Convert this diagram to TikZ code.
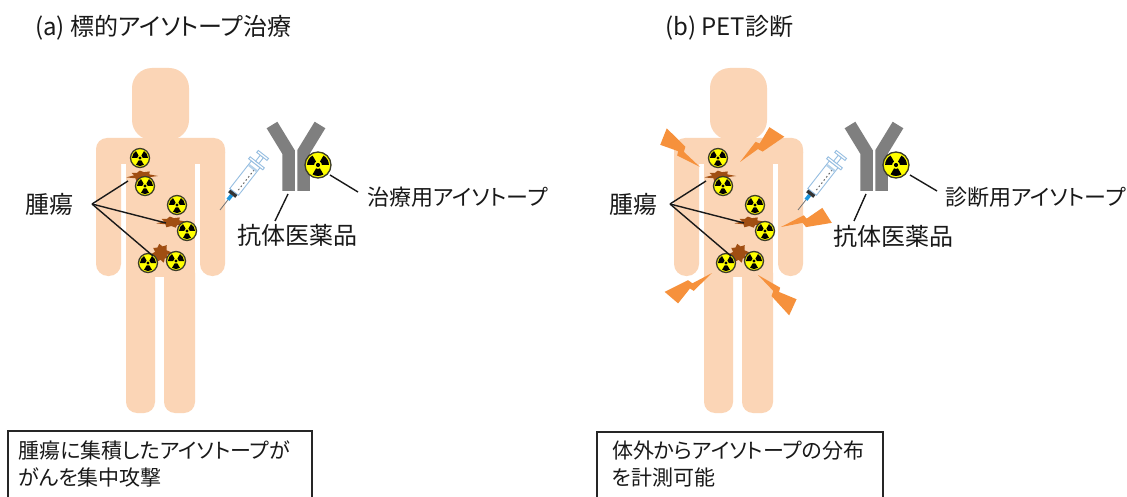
\documentclass[tikz,border=0pt]{standalone}
\usepackage{fontspec}
\setmainfont{Noto Sans CJK JP}[RawFeature=+palt]
\usetikzlibrary{calc}
\definecolor{skin}{RGB}{251,213,182}
\definecolor{abgray}{RGB}{127,127,127}
\definecolor{radyellow}{RGB}{255,255,0}
\definecolor{radring}{RGB}{60,60,40}
\definecolor{tumourbrown}{RGB}{160,78,18}
\definecolor{boltorange}{RGB}{246,145,60}
\definecolor{syrblue}{RGB}{150,190,225}
\definecolor{hubblue}{RGB}{30,150,220}
\definecolor{inktext}{RGB}{25,25,25}

\tikzset{
  % radiation trefoil, unit radius
  radsym/.pic={
    \fill[radyellow] (0,0) circle (1);
    \foreach \a in {60,180,300}
      \fill[black] (\a:0.3) arc[start angle=\a, end angle=\a+60, radius=0.3]
        -- ({\a+60}:0.84) arc[start angle=\a+60, end angle=\a, radius=0.84] -- cycle;
    \fill[black] (0,0) circle (0.16);
    \draw[radring, line width=1.3pt] (0,0) circle (1);
  },
  % ragged tumour mass
  tumour/.pic={
    \fill[tumourbrown] (0:16) -- (16:8) -- (32:13) -- (50:8) -- (72:12) -- (95:8)
      -- (118:12) -- (145:8) -- (170:16) -- (190:8) -- (210:12) -- (232:8)
      -- (258:11) -- (285:8) -- (310:12) -- (336:8) -- cycle;
  },
  % lightning bolt, tip at origin, pointing along +x
  bolt/.pic={
    \fill[boltorange] (0,0) -- (-22,-2) -- (-24,-7) -- (-50,-10) -- (-45,7)
      -- (-27,1) -- (-25,5) -- cycle;
  },
  % syringe, needle tip at origin, barrel along +x
  syringe/.pic={
    \draw[black!55, line width=0.8pt] (0,0) -- (14,0);
    \fill[hubblue] (13,-1.8) rectangle (19,1.8);
    \fill[black!80] (19,-4.5) rectangle (23,4.5);
    \draw[syrblue, fill=white, line width=0.9pt] (23,-5.5) rectangle (58,5.5);
    \foreach \t in {27,31,...,51}
      \draw[black!60, line width=1pt] (\t,2.2) -- (\t+1.6,2.2);
    \fill[syrblue!70] (52,-5) rectangle (54.5,5);
    \draw[syrblue, fill=white, line width=0.9pt] (58,-9) rectangle (60.5,9);
    \draw[syrblue, fill=white, line width=0.9pt] (60.5,-2) rectangle (68,2);
    \draw[syrblue, fill=white, line width=0.9pt] (68,-6.5) rectangle (70.5,6.5);
  },
  % human silhouette
  person/.pic={
    \fill[skin, rounded corners=20] (132,68) rectangle (189,140);
    \fill[skin, rounded corners=11] (96,138) rectangle (225,164);
    \fill[skin, rounded corners=12] (96,140) rectangle (121,276);
    \fill[skin, rounded corners=12] (200,140) rectangle (225,276);
    \fill[skin] (126,150) rectangle (195,277);
    \fill[skin, rounded corners=11] (126,262) rectangle (155,413);
    \fill[skin, rounded corners=11] (164,262) rectangle (195,413);
  },
  % antibody with its isotope
  antibody/.pic={
    \draw[abgray, line width=12.5pt, line join=miter] (288.5,191) -- (288.5,152) -- (272,125);
    \draw[abgray, line width=12.5pt, line join=miter] (303.5,191) -- (303.5,152) -- (320,125);
    \pic[scale=13] at (318,165) {radsym};
  },
  ttl/.style={font=\fontsize{24}{28}\selectfont, text=inktext, inner sep=0pt, anchor=base west},
  lbl/.style={font=\fontsize{22}{26}\selectfont, text=inktext, inner sep=0pt, anchor=base west},
  lblk/.style={font=\fontsize{24}{28}\selectfont, text=inktext, inner sep=0pt, anchor=base west},
  note/.style={font=\fontsize{21}{27}\selectfont, text=inktext, inner sep=0pt, anchor=base west},
  leader/.style={line width=1.4pt, black!90},
  notebox/.style={draw=black!85, line width=1.3pt},
}

\begin{document}
\begin{tikzpicture}[x=1pt, y=-1pt]
\clip (0,0) rectangle (1127,497);
\fill[white] (0,0) rectangle (1127,497);

% ---------- (a) targeted isotope therapy ----------
\node[ttl] (titleA) at (35,36) {(a) 標的アイソトープ治療};
\pic at (0,0) {person};
\pic at (142,176) [yscale=0.5] {tumour};
\pic at (172,222) [yscale=0.5] {tumour};
\pic at (161,253) [xscale=0.75, yscale=0.85] {tumour};
\foreach \p in {(140,158),(145,186),(177,205),(187,231),(148,263),(176,261)}
  \pic[scale=9.5] at \p {radsym};
\node[lblk] (tumA) at (25,214) {腫瘍};
\coordinate (hubA) at (92,204);
\coordinate (tA1) at (128,181);
\coordinate (tA2) at (166,223);
\coordinate (tA3) at (153,256);
\draw[leader] (hubA) -- (tA1);
\draw[leader] (hubA) -- (tA2);
\draw[leader] (hubA) -- (tA3);
\pic[rotate=52] at (220,210) {syringe};
\pic at (0,0) {antibody};
\node[lblk] (abA) at (237,244) {抗体医薬品};
\coordinate (abA0) at (288,194);
\coordinate (abA1) at (275,221);
\draw[leader] (abA0) -- (abA1);
\node[lbl] (isoA) at (367,206) {治療用アイソトープ};
\coordinate (isoA0) at (330,175);
\coordinate (isoA1) at (358,192);
\draw[leader] (isoA0) -- (isoA1);
\draw[notebox] (8,431) rectangle (312,510);
\node[note] (noteA1) at (18,458) {腫瘍に集積したアイソトープが};
\node[note] (noteA2) at (18,485) {がんを集中攻撃};

% ---------- (b) PET diagnosis ----------
\node[ttl] (titleB) at (665,36) {(b) PET診断};
\pic at (578,0) {person};
\begin{scope}[shift={(578,0)}]
  \pic at (142,176) [yscale=0.5] {tumour};
  \pic at (172,222) [yscale=0.5] {tumour};
  \pic at (161,253) [xscale=0.75, yscale=0.85] {tumour};
  \foreach \p in {(140,158),(145,186),(177,205),(187,231),(148,263),(176,261)}
    \pic[scale=9.5] at \p {radsym};
  \coordinate (hubB) at (92,204);
  \coordinate (tB1) at (128,181);
  \coordinate (tB2) at (166,223);
  \coordinate (tB3) at (153,256);
  \pic[rotate=52] at (220,210) {syringe};
  \pic at (0,0) {antibody};
  \coordinate (abB0) at (288,194);
  \coordinate (abB1) at (276,221);
  \coordinate (isoB0) at (332,175);
  \coordinate (isoB1) at (359,191);
\end{scope}
\draw[leader] (hubB) -- (tB1);
\draw[leader] (hubB) -- (tB2);
\draw[leader] (hubB) -- (tB3);
\draw[leader] (abB0) -- (abB1);
\draw[leader] (isoB0) -- (isoB1);
\node[lblk] (tumB) at (609,214) {腫瘍};
\node[lblk] (abB) at (833,245) {抗体医薬品};
\node[lbl] (isoB) at (945,206) {診断用アイソトープ};
% gamma rays leaving the body
\pic[rotate=-38] at (700,167) {bolt};
\pic[rotate=-139] at (740,162) {bolt};
\pic[rotate=-164] at (781,227) {bolt};
\pic[rotate=33] at (712,273) {bolt};
\pic[rotate=139] at (758,275) {bolt};
\draw[notebox] (597,432) rectangle (883,510);
\node[note] (noteB1) at (612,458) {体外からアイソトープの分布};
\node[note] (noteB2) at (612,485) {を計測可能};
\end{tikzpicture}
\end{document}
